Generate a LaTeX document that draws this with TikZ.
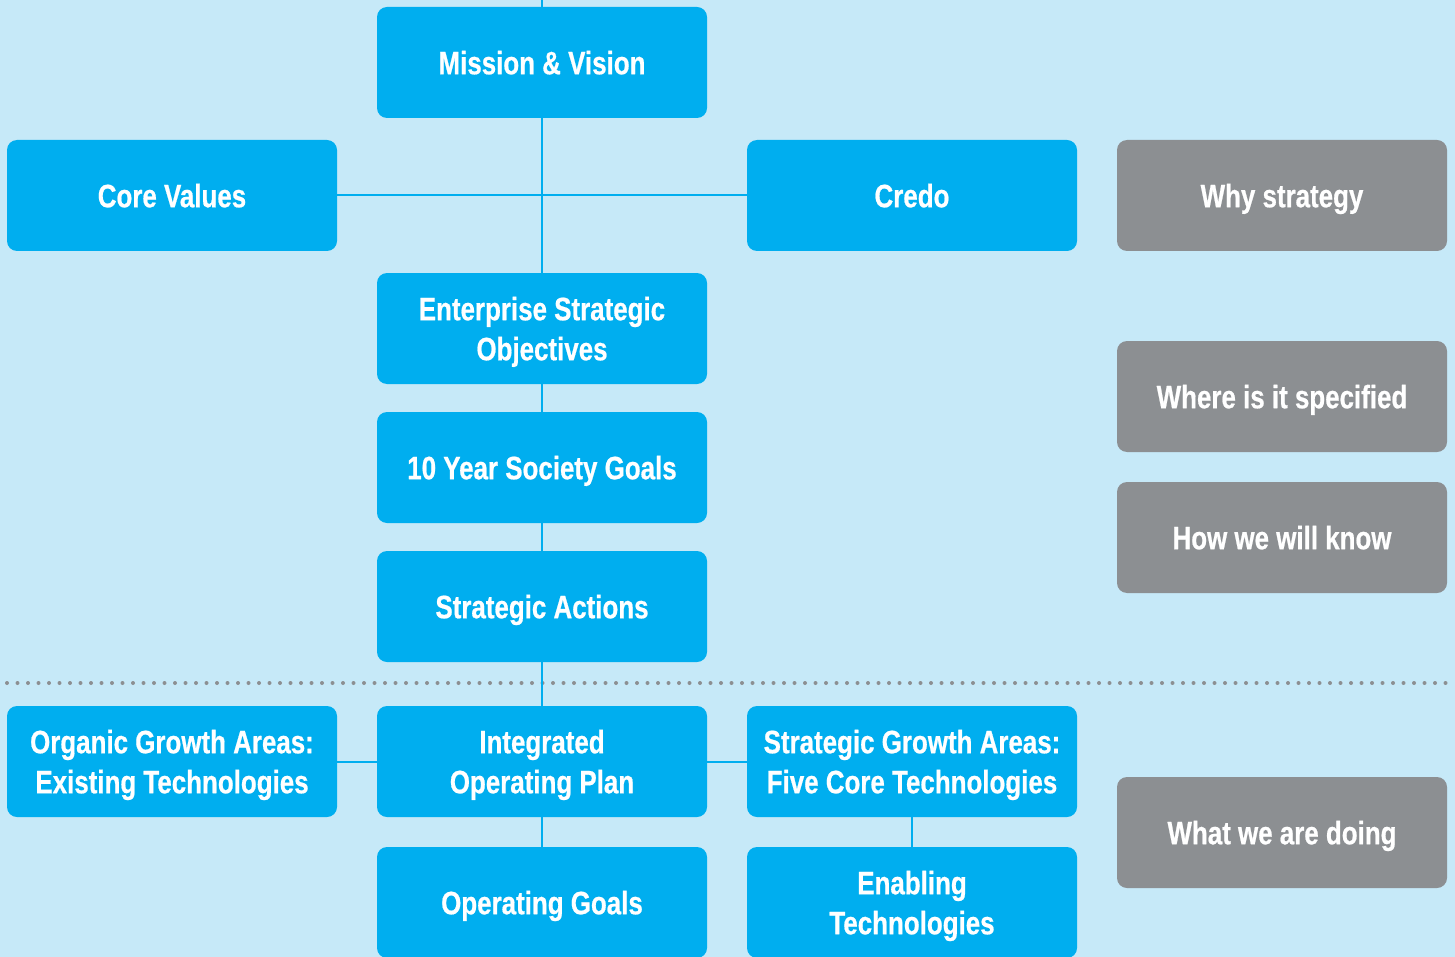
\documentclass[tikz,border=0pt]{standalone}
\usepackage{fontspec}
\setmainfont{Liberation Sans}[FakeStretch=0.8,BoldFeatures={FakeBold=0.6}]
\definecolor{bgblue}{HTML}{C6E9F8}
\definecolor{boxblue}{HTML}{00AEEF}
\definecolor{boxgray}{HTML}{8C8F92}
\begin{document}
\begin{tikzpicture}[x=0.5pt,y=-0.5pt,
    box/.style={shape=rectangle,rounded corners=5pt,fill=boxblue,text=white,
      minimum width=165pt,minimum height=55.5pt,align=center,text depth=0pt,
      font=\fontsize{16.2}{20}\selectfont\bfseries},
    gbox/.style={box,fill=boxgray},
    link/.style={draw=boxblue,line width=1pt}]
      \fill[bgblue] (0,0) rectangle (1455,957);
      \useasboundingbox (0,0) rectangle (1455,957);
      \clip (0,0) rectangle (1455,957);

      \node[box](mv) at (542,62.5) {Mission \& Vision};
      \node[box](cv) at (172,195.5) {Core Values};
      \node[box](cr) at (912,195.5) {Credo};
      \node[box](eso) at (542,328.5) {Enterprise Strategic\\Objectives};
      \node[box](ysg) at (542,467.5) {10 Year Society Goals};
      \node[box](sa) at (542,606.5) {Strategic Actions};
      \node[box](oga) at (172,761.5) {Organic Growth Areas:\\Existing Technologies};
      \node[box](iop) at (542,761.5) {Integrated\\Operating Plan};
      \node[box](sga) at (912,761.5) {Strategic Growth Areas:\\Five Core Technologies};
      \node[box](og) at (542,902.5) {Operating Goals};
      \node[box](et) at (912,902.5) {Enabling\\Technologies};

      \node[gbox](why) at (1282,195.5) {Why strategy};
      \node[gbox](where) at (1282,396.5) {Where is it specified};
      \node[gbox](how) at (1282,537.5) {How we will know};
      \node[gbox](what) at (1282,832.5) {What we are doing};

      \coordinate (top) at (542,0);
      \coordinate (dl) at (7,683);
      \coordinate (dr) at (1452,683);

      % dotted divider
      \draw[boxgray,line width=2pt,line cap=round,dash pattern=on 0pt off 5.25pt] (dl) -- (dr);

      \path[link] (top) edge (mv);
      \path[link] (mv) edge (eso);
      \path[link] (cv) edge (cr);
      \path[link] (eso) edge (ysg);
      \path[link] (ysg) edge (sa);
      \path[link] (sa) edge (iop);
      \path[link] (oga) edge (iop);
      \path[link] (iop) edge (sga);
      \path[link] (iop) edge (og);
      \path[link] (sga) edge (et);
\end{tikzpicture}
\end{document}
